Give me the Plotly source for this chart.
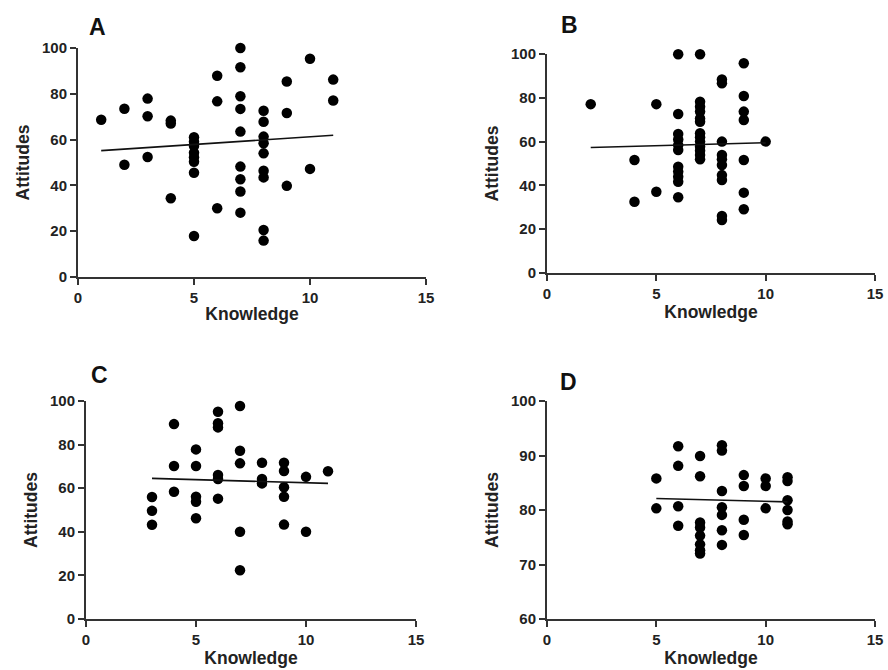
import plotly.graph_objects as go

# ---------------- data ----------------
a_knowledge = [1, 2, 2, 3, 3, 3, 4, 4, 4,
               5, 5, 5, 5, 5, 5, 5, 5,
               6, 6, 6,
               7, 7, 7, 7, 7, 7, 7, 7, 7,
               8, 8, 8, 8, 8, 8, 8, 8, 8,
               9, 9, 9, 10, 10, 11, 11]
a_attitudes = [68.7, 73.5, 49.0, 77.9, 70.2, 52.4, 68.3, 67.0, 34.4,
               61.0, 59.1, 57.2, 54.3, 52.3, 50.3, 45.5, 17.9,
               87.9, 76.7, 30.0,
               100.0, 91.6, 78.9, 73.4, 63.5, 48.2, 42.7, 37.3, 28.1,
               72.6, 67.8, 61.3, 58.4, 54.0, 46.4, 43.5, 20.5, 15.9,
               85.4, 71.6, 39.8, 95.3, 47.2, 86.2, 77.1]
a_fit_x = [1, 11]
a_fit_y = [55.2, 61.9]

b_knowledge = [2, 4, 4, 5, 5,
               6, 6, 6, 6, 6, 6, 6, 6, 6, 6, 6,
               7, 7, 7, 7, 7, 7, 7, 7, 7, 7, 7, 7, 7,
               8, 8, 8, 8, 8, 8, 8, 8, 8, 8,
               9, 9, 9, 9, 9, 9, 9,
               10]
b_attitudes = [77.1, 51.6, 32.5, 77.1, 37.1,
               99.9, 72.6, 63.5, 61.0, 58.4, 56.2, 48.5, 46.3, 44.0, 41.7, 34.6,
               99.9, 78.2, 75.9, 73.7, 70.6, 69.1, 63.8, 62.0, 60.0, 57.7, 55.8, 53.9, 51.9,
               88.4, 86.6, 60.0, 53.9, 51.9, 49.3, 44.7, 42.5, 26.0, 24.2,
               95.8, 80.8, 73.7, 69.9, 51.6, 36.7, 29.1,
               60.0]
b_fit_x = [2, 10]
b_fit_y = [57.3, 59.5]

c_knowledge = [3, 3, 3, 4, 4, 4,
               5, 5, 5, 5, 5,
               6, 6, 6, 6, 6, 6,
               7, 7, 7, 7, 7,
               8, 8, 8,
               9, 9, 9, 9, 9,
               10, 10, 11]
c_attitudes = [56.0, 49.6, 43.2, 89.4, 70.2, 58.4,
               77.8, 70.2, 56.1, 53.8, 46.2,
               95.1, 89.8, 87.9, 66.1, 64.2, 55.2,
               97.7, 77.2, 71.4, 40.0, 22.4,
               71.7, 64.2, 62.2,
               71.7, 67.9, 60.4, 56.1, 43.3,
               65.2, 40.0, 67.8]
c_fit_x = [3, 11]
c_fit_y = [64.5, 62.2]

d_knowledge = [5, 5, 6, 6, 6, 6,
               7, 7, 7, 7, 7, 7, 7, 7,
               8, 8, 8, 8, 8, 8, 8,
               9, 9, 9, 9,
               10, 10, 10,
               11, 11, 11, 11, 11, 11]
d_attitudes = [85.8, 80.3, 91.7, 88.1, 80.7, 77.1,
               89.9, 86.2, 77.7, 76.8, 75.3, 73.7, 72.6, 72.0,
               91.9, 90.9, 83.5, 80.5, 79.1, 76.3, 73.6,
               86.4, 84.4, 78.2, 75.4,
               85.8, 84.4, 80.3,
               86.0, 85.3, 81.8, 80.0, 77.9, 77.4]
d_fit_x = [5, 11]
d_fit_y = [82.1, 81.5]

panel_letters = ["A", "B", "C", "D"]
x_ticks = [0, 5, 10, 15]
y_ticks_abc = [0, 20, 40, 60, 80, 100]
y_ticks_d = [60, 70, 80, 90, 100]

# ---------------- figure ----------------
W, H = 888, 670
fig = go.Figure()

panels = [
    (a_knowledge, a_attitudes, a_fit_x, a_fit_y, "x", "y"),
    (b_knowledge, b_attitudes, b_fit_x, b_fit_y, "x2", "y2"),
    (c_knowledge, c_attitudes, c_fit_x, c_fit_y, "x3", "y3"),
    (d_knowledge, d_attitudes, d_fit_x, d_fit_y, "x4", "y4"),
]
for kx, ay, fx, fy, xa, ya in panels:
    fig.add_trace(go.Scatter(x=kx, y=ay, mode="markers", xaxis=xa, yaxis=ya,
                             marker=dict(color="#000000", size=10.5, line=dict(width=0)),
                             cliponaxis=False, showlegend=False, hoverinfo="x+y"))
    fig.add_trace(go.Scatter(x=fx, y=fy, mode="lines", xaxis=xa, yaxis=ya,
                             line=dict(color="#111111", width=1.6),
                             cliponaxis=False, showlegend=False, hoverinfo="skip"))

# pixel boxes of the plot areas: (left, right, top, bottom)
boxes = [(78, 426, 48, 277), (547, 875, 54, 273), (86, 416, 401, 619), (547, 875, 401, 619)]

FAMILY = "Liberation Sans, Arial, sans-serif"
tick_font = dict(family=FAMILY, size=15, color="#222222", weight="bold")
title_font = dict(family=FAMILY, size=17.5, color="#222222", weight="bold")

axis_common = dict(showline=True, linewidth=2, linecolor="#333333", ticks="outside",
                   ticklen=6, tickwidth=2, tickcolor="#333333", showgrid=False,
                   zeroline=False, tickfont=tick_font, fixedrange=True, automargin=False)

layout = dict(width=W, height=H, margin=dict(l=0, r=0, t=0, b=0),
              paper_bgcolor="white", plot_bgcolor="white", showlegend=False)

for i, (l, r, t, b) in enumerate(boxes):
    sx = "" if i == 0 else str(i + 1)
    yr = [60, 100] if i == 3 else [0, 100]
    yt = y_ticks_d if i == 3 else y_ticks_abc
    layout["xaxis" + sx] = dict(domain=[l / W, r / W], range=[0, 15], tickvals=x_ticks,
                                anchor="y" + sx,
                                title=dict(text="Knowledge", font=title_font, standoff=3),
                                **axis_common)
    layout["yaxis" + sx] = dict(domain=[1 - b / H, 1 - t / H], range=yr, tickvals=yt,
                                anchor="x" + sx,
                                title=dict(text="Attitudes", font=title_font, standoff=8),
                                **axis_common)

fig.update_layout(**layout)

letter_pos = [(97, 27), (569, 25), (99, 375), (568, 382)]
for letter, (px, py) in zip(panel_letters, letter_pos):
    fig.add_annotation(x=px / W, y=1 - py / H, xref="paper", yref="paper",
                       text=letter, showarrow=False, xanchor="center", yanchor="middle",
                       font=dict(family=FAMILY, size=23, color="#111111", weight="bold"))

fig.write_html("out.html", config={"displayModeBar": False},
               post_script="document.body.style.margin='0';document.body.style.overflow='hidden';")
